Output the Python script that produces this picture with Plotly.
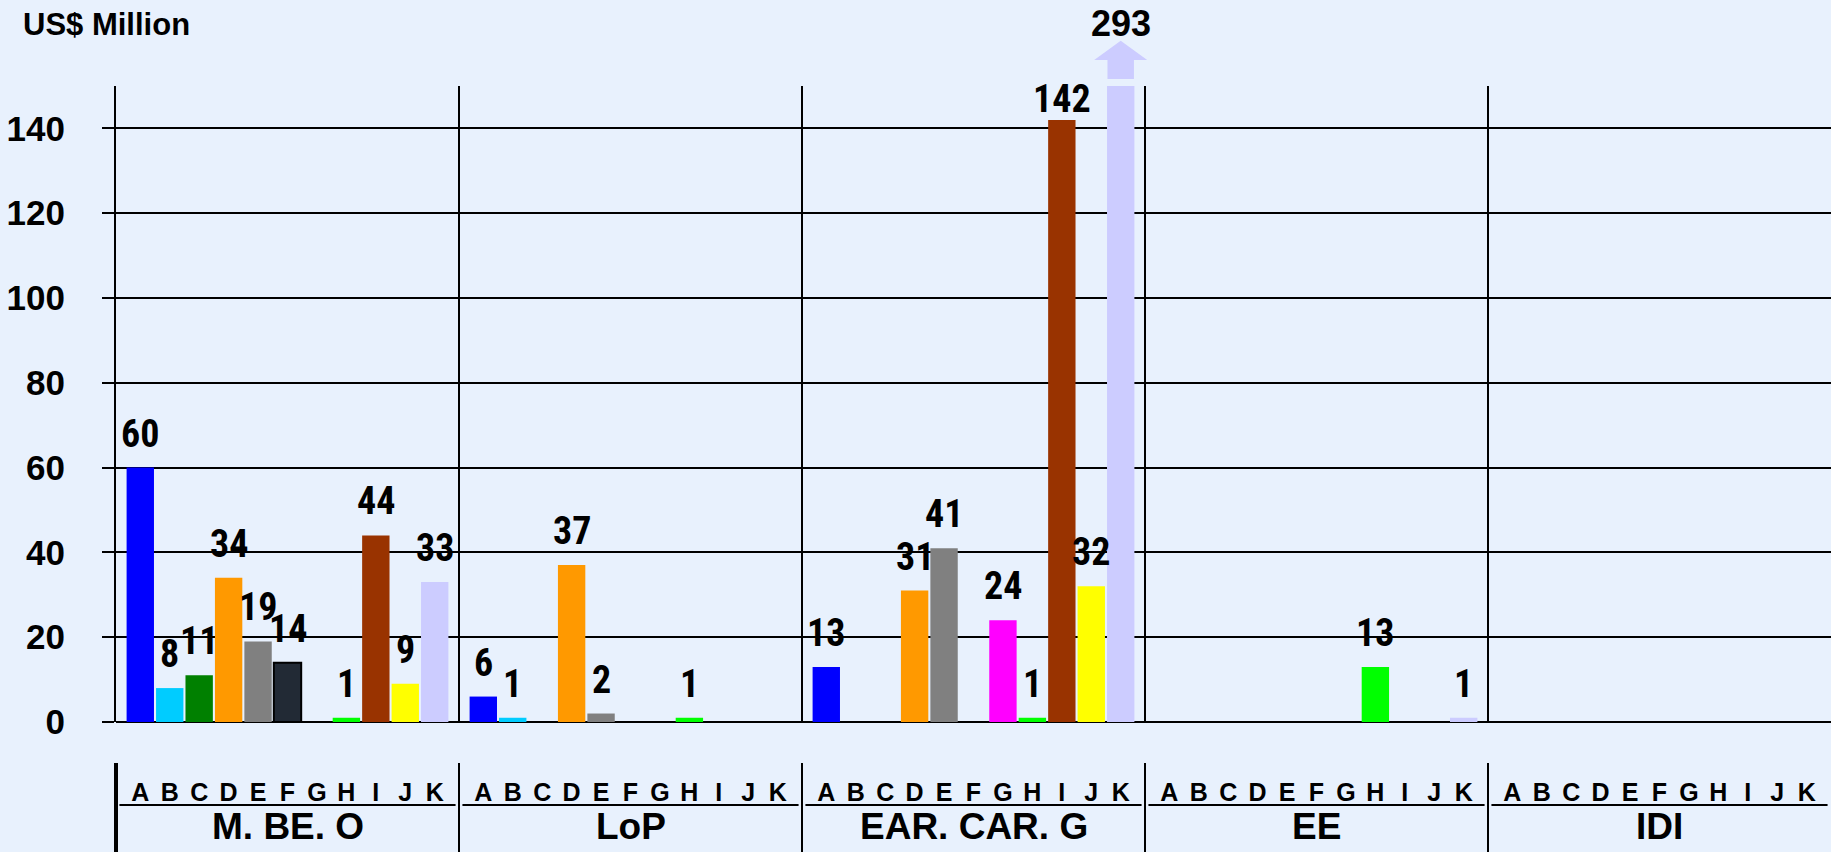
import plotly.graph_objects as go

# ---------------- data ----------------
groups = ["M. BE. O", "LoP", "EAR. CAR. G", "EE", "IDI"]
letters = ["A", "B", "C", "D", "E", "F", "G", "H", "I", "J", "K"]

vals_mbeo = [60, 8, 11, 34, 19, 14, 0, 1, 44, 9, 33]
vals_lop = [6, 1, 0, 37, 2, 0, 0, 1, 0, 0, 0]
vals_ear = [13, 0, 0, 31, 41, 0, 24, 1, 142, 32, 293]
vals_ee = [0, 0, 0, 0, 0, 0, 0, 13, 0, 0, 1]
vals_idi = [0, 0, 0, 0, 0, 0, 0, 0, 0, 0, 0]

y_ticks = [0, 20, 40, 60, 80, 100, 120, 140]

colors = ["#0000FF", "#00CCFF", "#008000", "#FF9900", "#808080", "#222A35",
          "#FF00FF", "#00FF00", "#993300", "#FFFF00", "#CCCCFF"]

all_vals = [vals_mbeo, vals_lop, vals_ear, vals_ee, vals_idi]

# ---------------- layout constants ----------------
W, H = 1831, 852
ML, MR, MT, MB = 116, 0, 86, 130
PLOT_H = H - MT - MB
YMAX = 150
PPU = PLOT_H / YMAX
GW = 11.65                 # group width in slot units
OFF = (GW - 10) / 2        # centre of first bar inside group
XMAX = GW * len(groups)
BG = "#E8F1FD"

BOLD = "Liberation Sans, Arial, sans-serif"
NARROW = ("Liberation Sans Narrow, Arial Narrow, Roboto Condensed, Noto Sans Condensed, "
          "DejaVu Sans Condensed, sans-serif")


def xpos(g, c):
    return g * GW + OFF + c


fig = go.Figure()

for c, letter in enumerate(letters):
    xs = [xpos(g, c) for g in range(len(groups))]
    ys = [all_vals[g][c] for g in range(len(groups))]
    line = dict(color="#000000", width=2) if letter == "F" else dict(width=0)
    fig.add_trace(go.Bar(x=xs, y=ys, width=0.93, marker=dict(color=colors[c], line=line),
                         name=letter, showlegend=False, hoverinfo="x+y"))

annotations = []
shapes = []
LABEL_GAP_PX = 10
LABEL_BOX_PX = 46
TOP_OVERHANG_PX = 9
cap_units = (PLOT_H + TOP_OVERHANG_PX - LABEL_BOX_PX - LABEL_GAP_PX) / PPU

for g in range(len(groups)):
    for c in range(len(letters)):
        v = all_vals[g][c]
        if v == 0:
            continue
        if v > YMAX:
            # off-scale bar: arrow and value above the plot
            xc = xpos(g, c)
            shapes.append(dict(type="path", xref="x", yref="paper",
                               path=(f"M {xc-0.45} 1.011 L {xc+0.45} 1.011 L {xc+0.45} 1.041 "
                                     f"L {xc+0.9} 1.041 L {xc} 1.071 L {xc-0.9} 1.041 "
                                     f"L {xc-0.45} 1.041 Z"),
                               fillcolor=colors[c], line=dict(width=0), layer="above"))
            annotations.append(dict(x=xc, y=1.098, xref="x", yref="paper", text=str(v),
                                    showarrow=False, xanchor="center", yanchor="middle",
                                    font=dict(family=BOLD, size=36, color="black", weight="bold")))
            continue
        annotations.append(dict(x=xpos(g, c), y=min(v, cap_units), xref="x", yref="y",
                                text=str(v), showarrow=False, xanchor="center", yanchor="bottom",
                                yshift=LABEL_GAP_PX,
                                font=dict(family=NARROW, size=38, color="black", weight="bold")))

# group names
for g, name in enumerate(groups):
    annotations.append(dict(x=(g + 0.5) / len(groups), y=-0.1645, xref="paper", yref="paper",
                            text=name, showarrow=False, xanchor="center", yanchor="middle",
                            font=dict(family=BOLD, size=37, color="black", weight="bold")))

# y-axis title
annotations.append(dict(x=-0.0554, y=1.096, xref="paper", yref="paper", text="US$ Million",
                        showarrow=False, xanchor="left", yanchor="middle",
                        font=dict(family=BOLD, size=31, color="black", weight="bold")))

n = len(groups)
# vertical dividers inside plot
for g in range(1, n):
    shapes.append(dict(type="line", xref="paper", yref="paper", x0=g / n, x1=g / n, y0=0, y1=1,
                       line=dict(color="black", width=2), layer="above"))
# separators in category area
for g in range(n):
    shapes.append(dict(type="line", xref="paper", yref="paper", x0=g / n, x1=g / n,
                       y0=-0.0645, y1=-0.21,
                       line=dict(color="black", width=4 if g == 0 else 2)))
# underlines below letters
for g in range(n):
    shapes.append(dict(type="line", xref="paper", yref="paper",
                       x0=g / n + 0.002, x1=(g + 1) / n - 0.002, y0=-0.1305, y1=-0.1305,
                       line=dict(color="black", width=2)))

fig.update_layout(
    width=W, height=H,
    margin=dict(l=ML, r=MR, t=MT, b=MB, pad=0),
    paper_bgcolor=BG, plot_bgcolor="rgba(0,0,0,0)",
    barmode="overlay",
    annotations=annotations,
    shapes=shapes,
    xaxis=dict(range=[0, XMAX], tickvals=[xpos(g, c) for g in range(n) for c in range(len(letters))],
               ticktext=letters * n, ticks="", showgrid=False, zeroline=False, showline=False,
               tickangle=0, ticklabelstandoff=53,
               tickfont=dict(family=BOLD, size=25, color="black", weight="bold")),
    yaxis=dict(range=[0, YMAX], tickvals=y_ticks, ticks="outside", ticklen=12, tickwidth=2,
               tickcolor="black", showgrid=True, gridcolor="black", gridwidth=2,
               zeroline=True, zerolinecolor="black", zerolinewidth=2,
               showline=True, linecolor="black", linewidth=2, ticklabelstandoff=30,
               tickfont=dict(family=BOLD, size=35, color="black", weight="bold")),
)

fig.write_html("out.html", config={"displayModeBar": False},
               post_script="document.body.style.margin='0';document.body.style.overflow='hidden';")
